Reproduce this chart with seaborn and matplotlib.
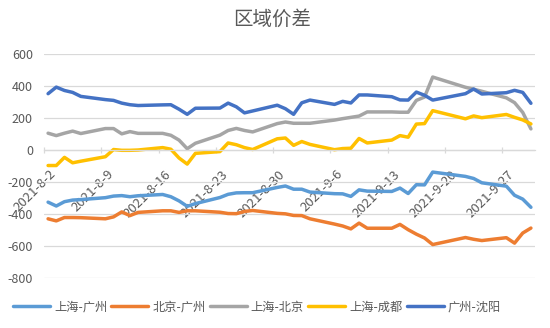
import matplotlib
matplotlib.use("Agg")
import matplotlib.pyplot as plt
import pandas as pd
import seaborn as sns
from matplotlib.transforms import ScaledTranslation

title = "区域价差"
dates = ["2021-08-02", "2021-08-03", "2021-08-04", "2021-08-05", "2021-08-06",
         "2021-08-09", "2021-08-10", "2021-08-11", "2021-08-12", "2021-08-13",
         "2021-08-16", "2021-08-17", "2021-08-18", "2021-08-19", "2021-08-20",
         "2021-08-23", "2021-08-24", "2021-08-25", "2021-08-26", "2021-08-27",
         "2021-08-30", "2021-08-31",
         "2021-09-01", "2021-09-02", "2021-09-03",
         "2021-09-06", "2021-09-07", "2021-09-08", "2021-09-09", "2021-09-10",
         "2021-09-13", "2021-09-14", "2021-09-15", "2021-09-16", "2021-09-17", "2021-09-18",
         "2021-09-22", "2021-09-23", "2021-09-24",
         "2021-09-27", "2021-09-28", "2021-09-29", "2021-09-30"]

sh_gz = [-326, -350, -323, -313, -310, -298, -288, -285, -292, -286, -278, -292, -318, -352, -335,
         -297, -277, -268, -267, -267, -234, -225,
         -245, -245, -263, -273, -274, -290, -249, -257, -259, -238, -272, -217, -218, -138,
         -165, -178, -205, -226, -283, -307, -358]
bj_gz = [-430, -443, -422, -422, -423, -430, -418, -387, -410, -390, -380, -380, -390, -380, -380,
         -389, -397, -398, -384, -378, -396, -399,
         -409, -410, -430, -463, -475, -493, -457, -489, -489, -465, -498, -526, -550, -591,
         -547, -558, -566, -548, -582, -519, -488]
sh_bj = [105, 90, 105, 118, 103, 134, 134, 101, 115, 104, 104, 92, 62, 8, 42,
         93, 122, 135, 122, 113, 165, 175,
         167, 167, 167, 187, 196, 204, 212, 238, 238, 236, 236, 310, 331, 456,
         392, 380, 367, 326, 296, 235, 132]
sh_cd = [-97, -97, -46, -80, -70, -42, 3, -2, -2, 0, 15, 5, -50, -88, -21,
         -10, 44, 33, 15, 3, 70, 75,
         29, 53, 35, 2, 9, 11, 72, 44, 62, 90, 80, 162, 165, 246,
         195, 213, 202, 222, 204, 188, 163]
gz_sy = [352, 393, 372, 360, 335, 315, 310, 293, 283, 278, 282, 283, 255, 223, 261,
         262, 293, 270, 232, 244, 280, 258,
         223, 295, 312, 285, 304, 294, 344, 344, 333, 313, 312, 362, 342, 312,
         352, 381, 350, 358, 373, 360, 292]

series_names = ["上海-广州", "北京-广州", "上海-北京", "上海-成都", "广州-沈阳"]
colors = ["#5B9BD5", "#ED7D31", "#A5A5A5", "#FFC000", "#4472C4"]
tick_labels = ["2021-8-2", "2021-8-9", "2021-8-16", "2021-8-23", "2021-8-30",
               "2021-9-6", "2021-9-13", "2021-9-20", "2021-9-27"]
yticks = [-800, -600, -400, -200, 0, 200, 400, 600]

# long-format table
d = pd.to_datetime(pd.Series(dates))
day = (d - d.iloc[0]).dt.days
frames = []
for name, vals in zip(series_names, [sh_gz, bj_gz, sh_bj, sh_cd, gz_sy]):
    frames.append(pd.DataFrame({"day": day, "value": vals, "series": name}))
df = pd.concat(frames, ignore_index=True)

sns.set_theme(style="white")
plt.rcParams["font.family"] = ["Noto Sans CJK SC", "DejaVu Sans"]
plt.rcParams["axes.unicode_minus"] = False

fig = plt.figure(figsize=(5.5, 3.28), dpi=100)
ax = fig.add_axes([44 / 550, 1 - 278 / 328, (535 - 44) / 550, (278 - 54) / 328])

sns.lineplot(data=df, x="day", y="value", hue="series", hue_order=series_names,
             palette=colors, linewidth=2.5, ax=ax, legend=True, sort=False)

ax.set_xlim(-0.5, 59.5)
ax.set_ylim(-800, 600)
ax.set_yticks(yticks)
ax.set_yticklabels([str(v) for v in yticks])
ax.yaxis.grid(True, color="#D9D9D9", linewidth=0.9)
ax.xaxis.grid(False)
ax.set_axisbelow(True)
ax.set_xlabel("")
ax.set_ylabel("")

for s in ["left", "right", "top"]:
    ax.spines[s].set_visible(False)
ax.spines["bottom"].set_position(("data", 0))
ax.spines["bottom"].set_color("#D9D9D9")
ax.spines["bottom"].set_linewidth(0.9)

major = [7 * k for k in range(len(tick_labels))]
ax.set_xticks(major)
ax.set_xticklabels(tick_labels, rotation=45, ha="right", va="center",
                   rotation_mode="anchor", fontsize=9.5, color="#595959")
ax.set_xticks([m - 0.5 for m in major], minor=True)
ax.tick_params(axis="x", which="major", length=0, pad=16)
ax.tick_params(axis="x", which="minor", length=4, width=0.9, color="#D9D9D9",
               direction="inout", bottom=True)
ax.tick_params(axis="y", length=0, pad=8, labelsize=9, labelcolor="#595959")
for lab in ax.get_xticklabels():
    lab.set_transform(lab.get_transform() + ScaledTranslation(6 / 100, 0, fig.dpi_scale_trans))

handles, labels = ax.get_legend_handles_labels()
ax.get_legend().remove()
leg = fig.legend(handles, labels, loc="center", bbox_to_anchor=(257 / 550, 1 - 307 / 328),
                 ncol=5, frameon=False, fontsize=8.8, handlelength=3.0,
                 handletextpad=0.35, columnspacing=0.35, labelcolor="#595959")
for h in leg.get_lines():
    h.set_linewidth(2.5)

fig.text(272 / 550, 1 - 19 / 328, title, ha="center", va="center",
         fontsize=14, color="#595959")

fig.savefig("out.png", dpi=100)
